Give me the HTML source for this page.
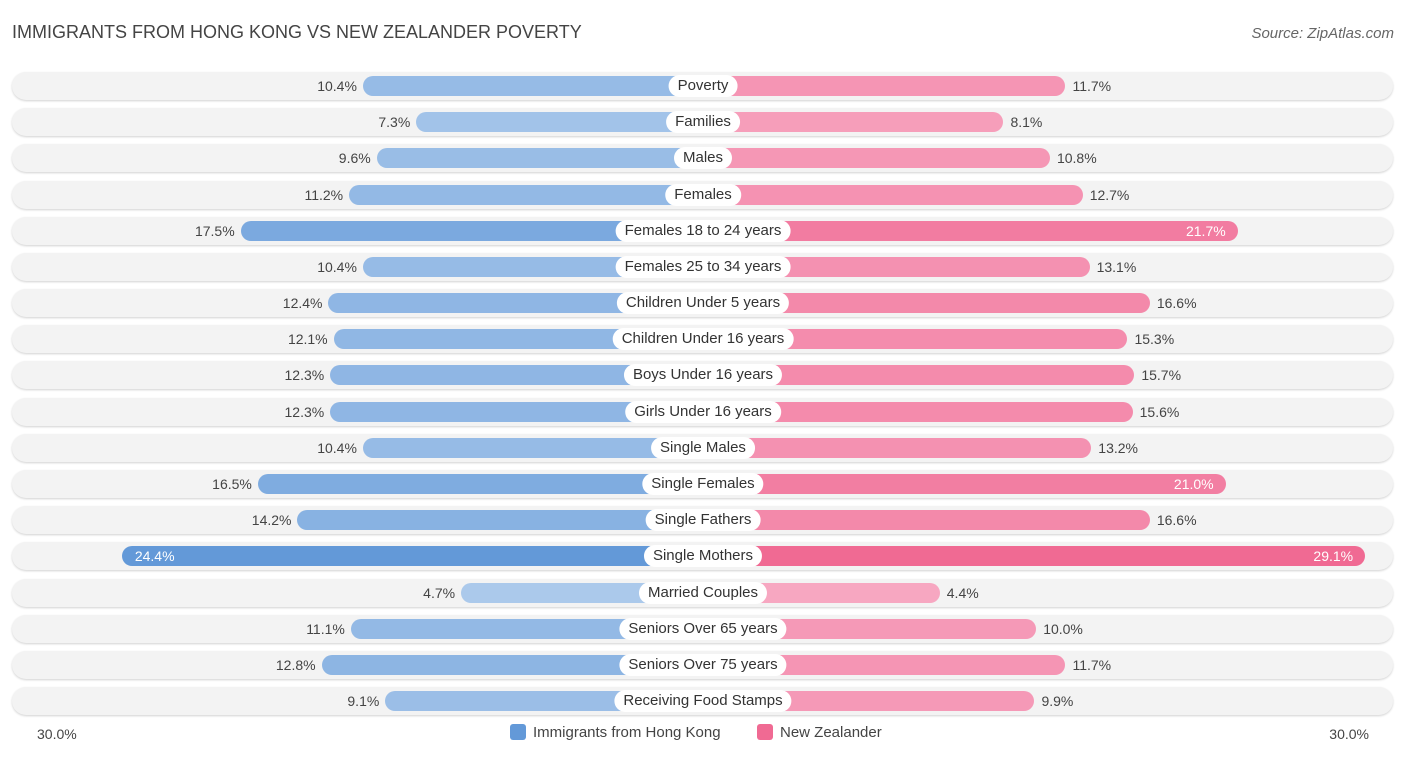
<!DOCTYPE html>
<html><head><meta charset="utf-8"><style>
body{margin:0;width:1406px;height:758px;background:#fff;font-family:"Liberation Sans",sans-serif;position:relative;overflow:hidden}
.t{position:absolute;left:12px;top:22px;font-size:18px;color:#444}
.s{position:absolute;right:12px;top:25px;font-size:15px;color:#666;font-style:italic}
.row{position:absolute;left:12px;width:1381px;height:28px;border-radius:14px;background:#f3f3f3;box-shadow:0 1px 2px rgba(0,0,0,.18)}
.bar{position:absolute;height:20px;border-radius:10px}
.lab{position:absolute;height:22px;line-height:22px;padding:0 9px;background:#fff;border-radius:11px;font-size:15px;color:#333;transform:translateX(-50%);white-space:nowrap}
.v{position:absolute;font-size:14px;color:#444;line-height:20px}
.leg{position:absolute;top:724px;font-size:15px;color:#444}
.sw{display:inline-block;width:16px;height:16px;border-radius:3px;vertical-align:-3px;margin-right:7px}
</style></head><body>
<div class="t">IMMIGRANTS FROM HONG KONG VS NEW ZEALANDER POVERTY</div>
<div class="s">Source: ZipAtlas.com</div>
<div id="chart"></div>
<div class="v" style="left:37px;top:724px">30.0%</div>
<div class="v" style="right:37px;top:724px">30.0%</div>
<div class="leg" style="left:510px"><span class="sw" style="background:#6399d8"></span>Immigrants from Hong Kong</div>
<div class="leg" style="left:757px"><span class="sw" style="background:#f06a93"></span>New Zealander</div>
<script>
const categories=["Poverty","Families","Males","Females","Females 18 to 24 years","Females 25 to 34 years","Children Under 5 years","Children Under 16 years","Boys Under 16 years","Girls Under 16 years","Single Males","Single Females","Single Fathers","Single Mothers","Married Couples","Seniors Over 65 years","Seniors Over 75 years","Receiving Food Stamps"];
const hongKong=[10.4,7.3,9.6,11.2,17.5,10.4,12.4,12.1,12.3,12.3,10.4,16.5,14.2,24.4,4.7,11.1,12.8,9.1];
const newZealander=[11.7,8.1,10.8,12.7,21.7,13.1,16.6,15.3,15.7,15.6,13.2,21.0,16.6,29.1,4.4,10.0,11.7,9.9];
const CX=703,OFF=161,K=17.22,Y0=86,DY=36.18;
function len(v){return OFF+v*K;}
function mix(a,b,t){return 'rgb('+a.map((x,i)=>Math.round(x+(b[i]-x)*t)).join(',')+')';}
const c=document.getElementById('chart');
categories.forEach((cat,i)=>{
  const y=Y0+i*DY;
  const r=document.createElement('div');r.className='row';r.style.top=(y-14)+'px';
  
  
  c.appendChild(r);
  const h=hongKong[i],n=newZealander[i];
  const bl=document.createElement('div');bl.className='bar';
  
  
  bl.style.left=(CX-len(h))+'px';bl.style.width=len(h)+'px';bl.style.top=(y-10)+'px';
  bl.style.background=mix([174,203,236],[99,153,216],Math.min(1,Math.max(0,(h-4)/20)));
  c.appendChild(bl);
  const br=document.createElement('div');br.className='bar';
  
  
  br.style.left=CX+'px';br.style.width=len(n)+'px';br.style.top=(y-10)+'px';
  br.style.background=mix([247,168,194],[240,106,147],Math.min(1,Math.max(0,(n-4)/25)));
  c.appendChild(br);
  const vl=document.createElement('div');vl.className='v';
  
  
  vl.textContent=h.toFixed(1)+'%';vl.style.top=(y-10)+'px';
  if(h>20){vl.style.left=(CX-len(h)+13)+'px';vl.style.color='#fff';}
  else{vl.style.right=(1406-(CX-len(h))+6)+'px';}
  c.appendChild(vl);
  const vr=document.createElement('div');vr.className='v';
  
  
  vr.textContent=n.toFixed(1)+'%';vr.style.top=(y-10)+'px';
  if(n>20){vr.style.right=(1406-(CX+len(n))+12)+'px';vr.style.color='#fff';}
  else{vr.style.left=(CX+len(n)+7)+'px';}
  c.appendChild(vr);
  const lb=document.createElement('div');lb.className='lab';
  
  
  lb.textContent=cat;lb.style.left=CX+'px';lb.style.top=(y-11)+'px';
  c.appendChild(lb);
});
</script>
</body></html>
